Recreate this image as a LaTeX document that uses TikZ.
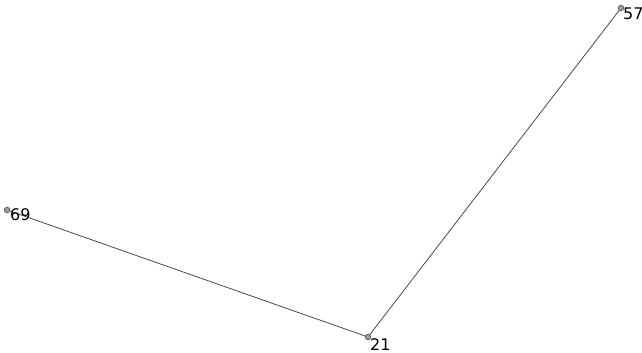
\documentclass[tikz,border=0pt]{standalone}
\usepackage{fontspec}
\setmainfont{DejaVu Sans}
\usepackage{xcolor}
\usetikzlibrary{positioning}
\definecolor{vxfill}{HTML}{A0A0A0}
\definecolor{vxdraw}{HTML}{505050}
\definecolor{edgeink}{HTML}{404040}

\begin{document}
\begin{tikzpicture}[x=1pt,y=-1pt,
    vertex/.style={circle,inner sep=0pt,minimum size=5.5pt,fill=vxfill,draw=vxdraw,line width=0.7pt},
    vlabel/.style={anchor=north west,inner sep=0pt,font=\fontsize{16}{18}\selectfont,text=black},
    edge/.style={draw=edgeink,line width=0.75pt}]
      \useasboundingbox (0,0) rectangle (642,353);
      \node[vertex] (n57) at (621,8) {};
      \node[vertex] (n69) at (7,210) {};
      \node[vertex] (n21) at (368,337) {};
      \draw[edge] (n69) -- (n21);
      \draw[edge] (n21) -- (n57);
      \node[vlabel] (t57) at ([xshift=2pt,yshift=0pt]n57.center) {57};
      \node[vlabel] (t69) at ([xshift=3pt,yshift=2pt]n69.center) {69};
      \node[vlabel] (t21) at ([xshift=2pt,yshift=-1pt]n21.center) {21};
    \end{tikzpicture}
\end{document}
